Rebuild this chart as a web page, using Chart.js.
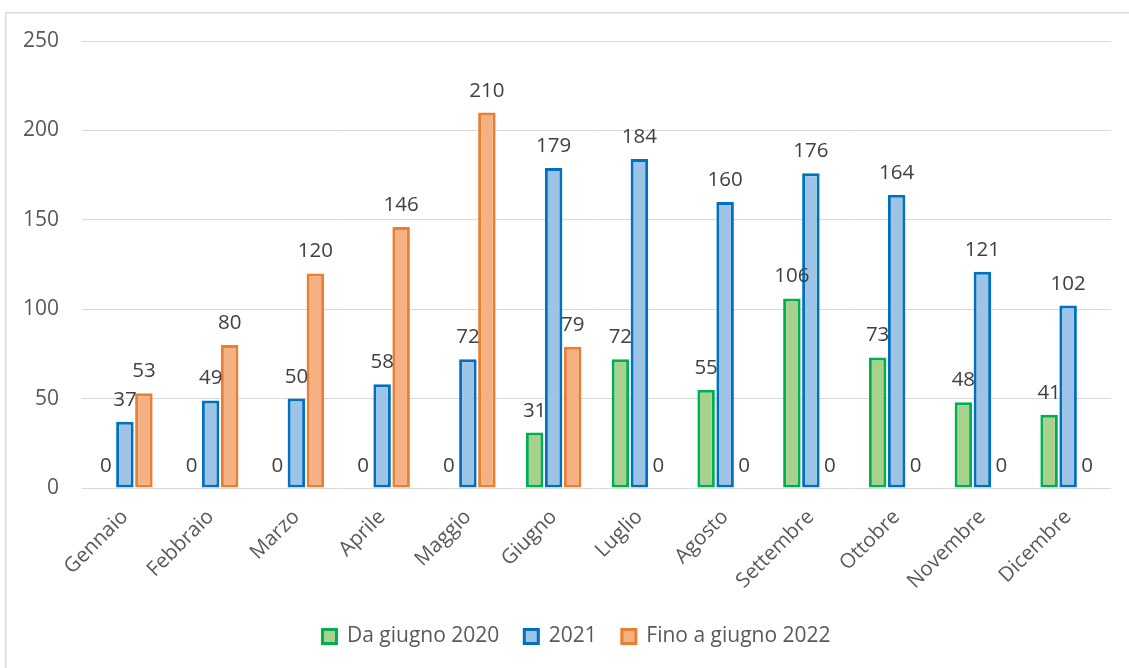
<!DOCTYPE html>
<html>
<head>
<meta charset="utf-8">
<title>Andamento mensile</title>
<script src="https://cdn.jsdelivr.net/npm/chart.js@4.4.1/dist/chart.umd.min.js"></script>
<style>
  html, body { margin: 0; padding: 0; background: #ffffff; }
  #wrap { position: relative; width: 1129px; height: 668px; overflow: hidden; }
  canvas { display: block; }
</style>
</head>
<body>
<div id="wrap"><canvas id="grafico" width="1129" height="668"></canvas></div>
<script>
// Mesi e valori per serie
const mesi = ['Gennaio', 'Febbraio', 'Marzo', 'Aprile', 'Maggio', 'Giugno',
              'Luglio', 'Agosto', 'Settembre', 'Ottobre', 'Novembre', 'Dicembre'];
const daGiugno2020   = [0, 0, 0, 0, 0, 31, 72, 55, 106, 73, 48, 41];
const anno2021       = [37, 49, 50, 58, 72, 179, 184, 160, 176, 164, 121, 102];
const finoGiugno2022 = [53, 80, 120, 146, 210, 79, 0, 0, 0, 0, 0, 0];
const tacche = [0, 50, 100, 150, 200, 250];

const FONT = '"Open Sans", sans-serif';
const AREA_LEFT = 82;       // bordo sinistro dell'area del grafico
const LEGENDA_SHIFT = 21;   // la legenda è centrata sull'intera cornice

// Cornice grigia attorno al grafico
const cornice = {
  id: 'cornice',
  beforeDraw(chart) {
    const ctx = chart.ctx;
    ctx.save();
    ctx.strokeStyle = '#d9d9d9';
    ctx.lineWidth = 1.5;
    ctx.beginPath();
    ctx.moveTo(5.75, chart.height + 2);
    ctx.lineTo(5.75, 12.75);
    ctx.lineTo(chart.width + 2, 12.75);
    ctx.stroke();
    ctx.restore();
  }
};

// Sposta il riquadro della legenda verso destra
const legendaCentrata = {
  id: 'legendaCentrata',
  afterLayout(chart) {
    const lg = chart.legend;
    if (lg) { lg.left += LEGENDA_SHIFT; lg.right += LEGENDA_SHIFT; }
  }
};

// Valore scritto sopra ogni barra
const etichette = {
  id: 'etichette',
  afterDatasetsDraw(chart) {
    const ctx = chart.ctx;
    ctx.save();
    ctx.font = '20.5px ' + FONT;
    ctx.fillStyle = '#404040';
    ctx.textAlign = 'center';
    ctx.textBaseline = 'alphabetic';
    chart.data.datasets.forEach((ds, i) => {
      const meta = chart.getDatasetMeta(i);
      meta.data.forEach((bar, j) => {
        ctx.fillText(String(ds.data[j]), bar.x, bar.y - 16);
      });
    });
    ctx.restore();
  }
};

function serie(label, data, bordo, riempimento) {
  return {
    label: label,
    data: data,
    backgroundColor: riempimento,
    borderColor: bordo,
    borderWidth: 3,
    borderSkipped: false,
    categoryPercentage: 0.665,
    barPercentage: 0.92
  };
}

function disegna() {
  Chart.defaults.font.family = FONT;
  new Chart(document.getElementById('grafico'), {
    type: 'bar',
    data: {
      labels: mesi,
      datasets: [
        serie('Da giugno 2020', daGiugno2020, '#00b050', '#a9d18e'),
        serie('2021', anno2021, '#0070c0', '#9dc3e6'),
        serie('Fino a giugno 2022', finoGiugno2022, '#ed7d31', '#f4b183')
      ]
    },
    options: {
      responsive: false,
      animation: false,
      devicePixelRatio: 1,
      layout: { padding: { left: 0, right: 18, top: 41, bottom: 11 } },
      plugins: {
        tooltip: { enabled: false },
        legend: {
          position: 'bottom',
          labels: {
            color: '#595959',
            font: { size: 21, family: FONT },
            boxWidth: 14,
            boxHeight: 14,
            padding: 25
          }
        }
      },
      scales: {
        x: {
          grid: { display: false },
          border: { display: false },
          ticks: {
            color: '#595959',
            font: { size: 20.5, family: FONT },
            minRotation: 45,
            maxRotation: 45,
            autoSkip: false,
            padding: 9
          },
          afterFit(scale) { scale.height = 113; }
        },
        y: {
          min: 0,
          max: 250,
          afterBuildTicks(scale) { scale.ticks = tacche.map(v => ({ value: v })); },
          grid: { color: '#d9d9d9', lineWidth: 1, drawTicks: false },
          border: { display: false },
          ticks: {
            color: '#595959',
            font: { size: 21, family: FONT },
            padding: 23
          },
          afterFit(scale) { scale.width = AREA_LEFT; }
        }
      }
    },
    plugins: [cornice, legendaCentrata, etichette]
  });
}

if (document.fonts && document.fonts.load) {
  Promise.all([
    document.fonts.load('20px "Open Sans"'),
    document.fonts.load('21px "Open Sans"')
  ]).then(disegna, disegna);
} else {
  disegna();
}
</script>
</body>
</html>
